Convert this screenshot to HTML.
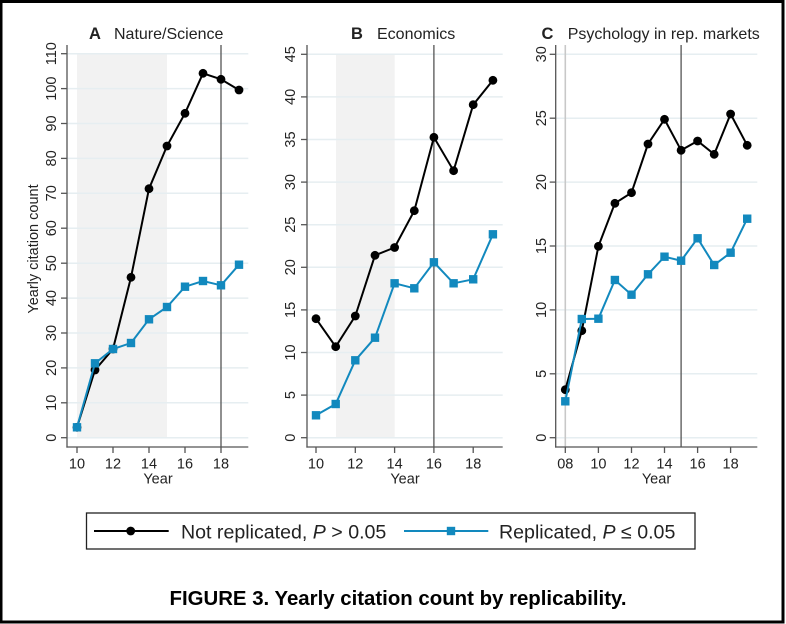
<!DOCTYPE html>
<html>
<head>
<meta charset="utf-8">
<style>
html,body{margin:0;padding:0;background:#fff;}
body{width:786px;height:624px;overflow:hidden;}
svg{display:block;font-family:"Liberation Sans",Arial,sans-serif;}
</style>
</head>
<body>
<svg width="786" height="624" viewBox="0 0 786 624" xmlns="http://www.w3.org/2000/svg">
<rect x="0" y="0" width="786" height="624" fill="#fff"/>
<!-- outer border -->
<rect x="1" y="1.5" width="782" height="620.5" fill="none" stroke="#000" stroke-width="3"/>

<!-- ================= PANEL A ================= -->
<g>
  <rect x="77" y="53.7" width="90" height="384" fill="#f2f2f2"/>
  <g stroke="#e6eef1" stroke-width="1.5">
    <line x1="67" x2="248.3" y1="437.7" y2="437.7"/>
    <line x1="67" x2="248.3" y1="402.8" y2="402.8"/>
    <line x1="67" x2="248.3" y1="367.9" y2="367.9"/>
    <line x1="67" x2="248.3" y1="333.0" y2="333.0"/>
    <line x1="67" x2="248.3" y1="298.1" y2="298.1"/>
    <line x1="67" x2="248.3" y1="263.2" y2="263.2"/>
    <line x1="67" x2="248.3" y1="228.2" y2="228.2"/>
    <line x1="67" x2="248.3" y1="193.3" y2="193.3"/>
    <line x1="67" x2="248.3" y1="158.4" y2="158.4"/>
    <line x1="67" x2="248.3" y1="123.5" y2="123.5"/>
    <line x1="67" x2="248.3" y1="88.6" y2="88.6"/>
    <line x1="67" x2="248.3" y1="53.7" y2="53.7"/>
  </g>
  <line x1="221" x2="221" y1="45" y2="447" stroke="#555" stroke-width="1.3"/>
  <g stroke="#555" stroke-width="1.3">
    <line x1="67" x2="67" y1="45" y2="447.6"/>
    <line x1="66.4" x2="248.3" y1="447" y2="447"/>
    <line x1="61" x2="67" y1="437.7" y2="437.7"/>
    <line x1="61" x2="67" y1="402.8" y2="402.8"/>
    <line x1="61" x2="67" y1="367.9" y2="367.9"/>
    <line x1="61" x2="67" y1="333.0" y2="333.0"/>
    <line x1="61" x2="67" y1="298.1" y2="298.1"/>
    <line x1="61" x2="67" y1="263.2" y2="263.2"/>
    <line x1="61" x2="67" y1="228.2" y2="228.2"/>
    <line x1="61" x2="67" y1="193.3" y2="193.3"/>
    <line x1="61" x2="67" y1="158.4" y2="158.4"/>
    <line x1="61" x2="67" y1="123.5" y2="123.5"/>
    <line x1="61" x2="67" y1="88.6" y2="88.6"/>
    <line x1="61" x2="67" y1="53.7" y2="53.7"/>
    <line x1="77" x2="77" y1="447" y2="453"/>
    <line x1="113" x2="113" y1="447" y2="453"/>
    <line x1="149" x2="149" y1="447" y2="453"/>
    <line x1="185" x2="185" y1="447" y2="453"/>
    <line x1="221" x2="221" y1="447" y2="453"/>
  </g>
  <g font-size="14.5" fill="#222" text-anchor="middle">
    <text transform="translate(56,437.7) rotate(-90)">0</text>
    <text transform="translate(56,402.8) rotate(-90)">10</text>
    <text transform="translate(56,367.9) rotate(-90)">20</text>
    <text transform="translate(56,333.0) rotate(-90)">30</text>
    <text transform="translate(56,298.1) rotate(-90)">40</text>
    <text transform="translate(56,263.2) rotate(-90)">50</text>
    <text transform="translate(56,228.2) rotate(-90)">60</text>
    <text transform="translate(56,193.3) rotate(-90)">70</text>
    <text transform="translate(56,158.4) rotate(-90)">80</text>
    <text transform="translate(56,123.5) rotate(-90)">90</text>
    <text transform="translate(56,88.6) rotate(-90)">100</text>
    <text transform="translate(56,53.7) rotate(-90)">110</text>
    <text x="77" y="468.3">10</text>
    <text x="113" y="468.3">12</text>
    <text x="149" y="468.3">14</text>
    <text x="185" y="468.3">16</text>
    <text x="221" y="468.3">18</text>
    <text x="158" y="483.5">Year</text>
    <text transform="translate(38,249) rotate(-90)">Yearly citation count</text>
  </g>
  <text x="89" y="39" font-size="16.5" font-weight="bold" fill="#222">A</text>
  <text x="114" y="39" font-size="16" fill="#222">Nature/Science</text>
  <!-- black series -->
  <polyline fill="none" stroke="#000" stroke-width="2" points="77,427.3 95,370 113,349 131,277.3 149,188.7 167,146 185,113.3 203,73.3 221,79.3 239,90"/>
  <g fill="#000">
    <circle cx="77" cy="427.3" r="4.4"/><circle cx="95" cy="370" r="4.4"/><circle cx="113" cy="349" r="4.4"/>
    <circle cx="131" cy="277.3" r="4.4"/><circle cx="149" cy="188.7" r="4.4"/><circle cx="167" cy="146" r="4.4"/>
    <circle cx="185" cy="113.3" r="4.4"/><circle cx="203" cy="73.3" r="4.4"/><circle cx="221" cy="79.3" r="4.4"/>
    <circle cx="239" cy="90" r="4.4"/>
  </g>
  <!-- blue series -->
  <polyline fill="none" stroke="#1289be" stroke-width="2" points="77,427.3 95,363.3 113,349 131,343 149,319.3 167,307 185,286.7 203,281 221,285.3 239,264.7"/>
  <g fill="#1289be">
    <rect x="72.8" y="423.1" width="8.4" height="8.4"/><rect x="90.8" y="359.1" width="8.4" height="8.4"/>
    <rect x="108.8" y="344.8" width="8.4" height="8.4"/><rect x="126.8" y="338.8" width="8.4" height="8.4"/>
    <rect x="144.8" y="315.1" width="8.4" height="8.4"/><rect x="162.8" y="302.8" width="8.4" height="8.4"/>
    <rect x="180.8" y="282.5" width="8.4" height="8.4"/><rect x="198.8" y="276.8" width="8.4" height="8.4"/>
    <rect x="216.8" y="281.1" width="8.4" height="8.4"/><rect x="234.8" y="260.5" width="8.4" height="8.4"/>
  </g>
</g>

<!-- ================= PANEL B ================= -->
<g>
  <rect x="336" y="54.3" width="58.7" height="383.4" fill="#f2f2f2"/>
  <g stroke="#e6eef1" stroke-width="1.5">
    <line x1="307" x2="502.7" y1="437.7" y2="437.7"/>
    <line x1="307" x2="502.7" y1="395.1" y2="395.1"/>
    <line x1="307" x2="502.7" y1="352.5" y2="352.5"/>
    <line x1="307" x2="502.7" y1="309.9" y2="309.9"/>
    <line x1="307" x2="502.7" y1="267.3" y2="267.3"/>
    <line x1="307" x2="502.7" y1="224.7" y2="224.7"/>
    <line x1="307" x2="502.7" y1="182.1" y2="182.1"/>
    <line x1="307" x2="502.7" y1="139.5" y2="139.5"/>
    <line x1="307" x2="502.7" y1="96.9" y2="96.9"/>
    <line x1="307" x2="502.7" y1="54.3" y2="54.3"/>
  </g>
  <line x1="433.9" x2="433.9" y1="45" y2="447" stroke="#555" stroke-width="1.3"/>
  <g stroke="#555" stroke-width="1.3">
    <line x1="307" x2="307" y1="45" y2="447.6"/>
    <line x1="306.4" x2="502.7" y1="447" y2="447"/>
    <line x1="301" x2="307" y1="437.7" y2="437.7"/>
    <line x1="301" x2="307" y1="395.1" y2="395.1"/>
    <line x1="301" x2="307" y1="352.5" y2="352.5"/>
    <line x1="301" x2="307" y1="309.9" y2="309.9"/>
    <line x1="301" x2="307" y1="267.3" y2="267.3"/>
    <line x1="301" x2="307" y1="224.7" y2="224.7"/>
    <line x1="301" x2="307" y1="182.1" y2="182.1"/>
    <line x1="301" x2="307" y1="139.5" y2="139.5"/>
    <line x1="301" x2="307" y1="96.9" y2="96.9"/>
    <line x1="301" x2="307" y1="54.3" y2="54.3"/>
    <line x1="316" x2="316" y1="447" y2="453"/>
    <line x1="355.3" x2="355.3" y1="447" y2="453"/>
    <line x1="394.6" x2="394.6" y1="447" y2="453"/>
    <line x1="433.9" x2="433.9" y1="447" y2="453"/>
    <line x1="473.2" x2="473.2" y1="447" y2="453"/>
  </g>
  <g font-size="14.5" fill="#222" text-anchor="middle">
    <text transform="translate(295,437.7) rotate(-90)">0</text>
    <text transform="translate(295,395.1) rotate(-90)">5</text>
    <text transform="translate(295,352.5) rotate(-90)">10</text>
    <text transform="translate(295,309.9) rotate(-90)">15</text>
    <text transform="translate(295,267.3) rotate(-90)">20</text>
    <text transform="translate(295,224.7) rotate(-90)">25</text>
    <text transform="translate(295,182.1) rotate(-90)">30</text>
    <text transform="translate(295,139.5) rotate(-90)">35</text>
    <text transform="translate(295,96.9) rotate(-90)">40</text>
    <text transform="translate(295,54.3) rotate(-90)">45</text>
    <text x="316" y="468.3">10</text>
    <text x="355.3" y="468.3">12</text>
    <text x="394.6" y="468.3">14</text>
    <text x="433.9" y="468.3">16</text>
    <text x="473.2" y="468.3">18</text>
    <text x="405" y="483.5">Year</text>
  </g>
  <text x="351" y="39" font-size="16.5" font-weight="bold" fill="#222">B</text>
  <text x="377" y="39" font-size="16" fill="#222">Economics</text>
  <polyline fill="none" stroke="#000" stroke-width="2" points="316,318.7 335.7,346.7 355.3,316 375,255.3 394.6,247.5 414.3,210.7 433.9,137.3 453.6,170.7 473.2,104.7 492.9,80.3"/>
  <g fill="#000">
    <circle cx="316" cy="318.7" r="4.4"/><circle cx="335.7" cy="346.7" r="4.4"/><circle cx="355.3" cy="316" r="4.4"/>
    <circle cx="375" cy="255.3" r="4.4"/><circle cx="394.6" cy="247.5" r="4.4"/><circle cx="414.3" cy="210.7" r="4.4"/>
    <circle cx="433.9" cy="137.3" r="4.4"/><circle cx="453.6" cy="170.7" r="4.4"/><circle cx="473.2" cy="104.7" r="4.4"/>
    <circle cx="492.9" cy="80.3" r="4.4"/>
  </g>
  <polyline fill="none" stroke="#1289be" stroke-width="2" points="316,415.3 335.7,404 355.3,360.3 375,337.7 394.6,283.3 414.3,288.3 433.9,262.3 453.6,283.3 473.2,279.3 492.9,234.3"/>
  <g fill="#1289be">
    <rect x="311.8" y="411.1" width="8.4" height="8.4"/><rect x="331.5" y="399.8" width="8.4" height="8.4"/>
    <rect x="351.1" y="356.1" width="8.4" height="8.4"/><rect x="370.8" y="333.5" width="8.4" height="8.4"/>
    <rect x="390.4" y="279.1" width="8.4" height="8.4"/><rect x="410.1" y="284.1" width="8.4" height="8.4"/>
    <rect x="429.7" y="258.1" width="8.4" height="8.4"/><rect x="449.4" y="279.1" width="8.4" height="8.4"/>
    <rect x="469" y="275.1" width="8.4" height="8.4"/><rect x="488.7" y="230.1" width="8.4" height="8.4"/>
  </g>
</g>

<!-- ================= PANEL C ================= -->
<g>
  <g stroke="#e6eef1" stroke-width="1.5">
    <line x1="555.7" x2="757.3" y1="437.7" y2="437.7"/>
    <line x1="555.7" x2="757.3" y1="373.8" y2="373.8"/>
    <line x1="555.7" x2="757.3" y1="309.9" y2="309.9"/>
    <line x1="555.7" x2="757.3" y1="246.0" y2="246.0"/>
    <line x1="555.7" x2="757.3" y1="182.1" y2="182.1"/>
    <line x1="555.7" x2="757.3" y1="118.2" y2="118.2"/>
    <line x1="555.7" x2="757.3" y1="54.3" y2="54.3"/>
  </g>
  <line x1="565.3" x2="565.3" y1="45" y2="447" stroke="#c8c8c8" stroke-width="1.6"/>
  <line x1="681.1" x2="681.1" y1="45" y2="447" stroke="#555" stroke-width="1.3"/>
  <g stroke="#555" stroke-width="1.3">
    <line x1="555.7" x2="555.7" y1="45" y2="447.6"/>
    <line x1="555.1" x2="757.3" y1="447" y2="447"/>
    <line x1="549.7" x2="555.7" y1="437.7" y2="437.7"/>
    <line x1="549.7" x2="555.7" y1="373.8" y2="373.8"/>
    <line x1="549.7" x2="555.7" y1="309.9" y2="309.9"/>
    <line x1="549.7" x2="555.7" y1="246.0" y2="246.0"/>
    <line x1="549.7" x2="555.7" y1="182.1" y2="182.1"/>
    <line x1="549.7" x2="555.7" y1="118.2" y2="118.2"/>
    <line x1="549.7" x2="555.7" y1="54.3" y2="54.3"/>
    <line x1="565.3" x2="565.3" y1="447" y2="453"/>
    <line x1="598.4" x2="598.4" y1="447" y2="453"/>
    <line x1="631.5" x2="631.5" y1="447" y2="453"/>
    <line x1="664.5" x2="664.5" y1="447" y2="453"/>
    <line x1="697.6" x2="697.6" y1="447" y2="453"/>
    <line x1="730.6" x2="730.6" y1="447" y2="453"/>
  </g>
  <g font-size="14.5" fill="#222" text-anchor="middle">
    <text transform="translate(546,437.7) rotate(-90)">0</text>
    <text transform="translate(546,373.8) rotate(-90)">5</text>
    <text transform="translate(546,309.9) rotate(-90)">10</text>
    <text transform="translate(546,246.0) rotate(-90)">15</text>
    <text transform="translate(546,182.1) rotate(-90)">20</text>
    <text transform="translate(546,118.2) rotate(-90)">25</text>
    <text transform="translate(546,54.3) rotate(-90)">30</text>
    <text x="565.3" y="468.3">08</text>
    <text x="598.4" y="468.3">10</text>
    <text x="631.5" y="468.3">12</text>
    <text x="664.5" y="468.3">14</text>
    <text x="697.6" y="468.3">16</text>
    <text x="730.6" y="468.3">18</text>
    <text x="656.5" y="483.5">Year</text>
  </g>
  <text x="541.5" y="39" font-size="16.5" font-weight="bold" fill="#222">C</text>
  <text x="567.7" y="39" font-size="16" fill="#222">Psychology in rep. markets</text>
  <polyline fill="none" stroke="#000" stroke-width="2" points="565.3,389.7 581.8,330.7 598.4,246.3 614.9,203.3 631.5,192.7 648,144 664.5,119.3 681.1,150.3 697.6,141 714.2,154.3 730.6,114 747.2,145.3"/>
  <g fill="#000">
    <circle cx="565.3" cy="389.7" r="4.4"/><circle cx="581.8" cy="330.7" r="4.4"/><circle cx="598.4" cy="246.3" r="4.4"/>
    <circle cx="614.9" cy="203.3" r="4.4"/><circle cx="631.5" cy="192.7" r="4.4"/><circle cx="648" cy="144" r="4.4"/>
    <circle cx="664.5" cy="119.3" r="4.4"/><circle cx="681.1" cy="150.3" r="4.4"/><circle cx="697.6" cy="141" r="4.4"/>
    <circle cx="714.2" cy="154.3" r="4.4"/><circle cx="730.6" cy="114" r="4.4"/><circle cx="747.2" cy="145.3" r="4.4"/>
  </g>
  <polyline fill="none" stroke="#1289be" stroke-width="2" points="565.3,401.3 581.8,319 598.4,318.7 614.9,280 631.5,294.7 648,274.3 664.5,256.7 681.1,260.7 697.6,238.3 714.2,265 730.6,252.7 747.2,218.7"/>
  <g fill="#1289be">
    <rect x="561.1" y="397.1" width="8.4" height="8.4"/><rect x="577.6" y="314.8" width="8.4" height="8.4"/>
    <rect x="594.2" y="314.5" width="8.4" height="8.4"/><rect x="610.7" y="275.8" width="8.4" height="8.4"/>
    <rect x="627.3" y="290.5" width="8.4" height="8.4"/><rect x="643.8" y="270.1" width="8.4" height="8.4"/>
    <rect x="660.3" y="252.5" width="8.4" height="8.4"/><rect x="676.9" y="256.5" width="8.4" height="8.4"/>
    <rect x="693.4" y="234.1" width="8.4" height="8.4"/><rect x="710" y="260.8" width="8.4" height="8.4"/>
    <rect x="726.4" y="248.5" width="8.4" height="8.4"/><rect x="743" y="214.5" width="8.4" height="8.4"/>
  </g>
</g>

<!-- ================= LEGEND ================= -->
<rect x="86.5" y="513" width="608.5" height="36" fill="#fff" stroke="#222" stroke-width="1.3"/>
<line x1="94" x2="168.7" y1="531" y2="531" stroke="#000" stroke-width="2"/>
<circle cx="130.7" cy="531" r="4.4" fill="#000"/>
<text x="181" y="538.3" font-size="19.6" fill="#222">Not replicated, <tspan font-style="italic">P</tspan> &gt; 0.05</text>
<line x1="404" x2="488.3" y1="531" y2="531" stroke="#1289be" stroke-width="2"/>
<rect x="446.8" y="526.8" width="8.4" height="8.4" fill="#1289be"/>
<text x="499" y="538.3" font-size="19.6" fill="#222">Replicated, <tspan font-style="italic">P</tspan> ≤ 0.05</text>

<!-- ================= CAPTION ================= -->
<text x="169.5" y="605" font-size="20.3" font-weight="bold" fill="#000" textLength="457" lengthAdjust="spacingAndGlyphs">FIGURE 3. Yearly citation count by replicability.</text>
</svg>
</body>
</html>
